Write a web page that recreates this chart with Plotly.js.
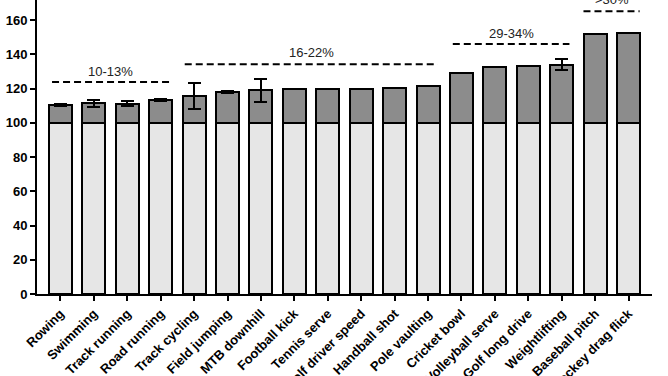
<!DOCTYPE html>
<html>
<head>
<meta charset="utf-8">
<script src="https://cdn.plot.ly/plotly-3.0.1.min.js"></script>
<style>
html,body{margin:0;padding:0;background:#fff;overflow:hidden;width:668px;height:376px;}
#chart{position:absolute;left:-60px;top:-40px;width:732px;height:480px;}
</style>
</head>
<body>
<div id="chart"></div>
<script>
// Data (values in %)
const sports = ["Rowing","Swimming","Track running","Road running","Track cycling","Field jumping","MTB downhill","Football kick","Tennis serve","Golf driver speed","Handball shot","Pole vaulting","Cricket bowl","Volleyball serve","Golf long drive","Weightlifting","Baseball pitch","Hockey drag flick"];
const baseline = [100,100,100,100,100,100,100,100,100,100,100,100,100,100,100,100,100,100];
const totals = [110.5,111.5,111.2,113.5,116,118,119,120,120,120,120.3,121.5,129,132.5,133.3,134,152,152.5];
const errors = [0.8,2,1.5,0.6,7.6,0.8,6.6,0,0,0,0,0,0,0,0,3.2,0,0];
const groupLabels = ["10-13%","16-22%","29-34%",">30%"];
const groupStart = [-0.25,3.72,11.74,15.65];
const groupEnd = [3.27,11.29,15.23,17.33];
const groupLevel = [123.9,134.2,146.1,165.2];
const groupLabelY = [130.3,141.3,152.4,172.4];
const yTicks = [0,20,40,60,80,100,120,140,160,180];

const gains = totals.map((t,i)=>t-baseline[i]);

const traces = [
  {type:'bar', x:sports, y:baseline, width:0.69,
   marker:{color:'#e6e6e6', line:{color:'#000', width:2}}, hoverinfo:'skip'},
  {type:'bar', x:sports, y:gains, width:0.69,
   marker:{color:'#8c8c8c', line:{color:'#000', width:2}},
   error_y:{type:'data', array:errors, visible:true, color:'#000', thickness:2, width:6.5}}
];

const shapes = groupLabels.map((g,i)=>({
  type:'line', xref:'x', yref:'y', x0:groupStart[i], x1:groupEnd[i], y0:groupLevel[i], y1:groupLevel[i],
  line:{color:'#000', width:2, dash:'7px,4px'}
}));

const annotations = groupLabels.map((g,i)=>({
  xref:'x', yref:'y', x:(groupStart[i]+groupEnd[i])/2, y:groupLabelY[i], text:g, showarrow:false,
  font:{family:'Liberation Sans, Arial, sans-serif', size:13, color:'#222'}
}));
annotations.push({
  xref:'paper', yref:'y', x:-0.066, y:108.7, xanchor:'right', yanchor:'top', textangle:-90,
  text:'Velocity (%)', showarrow:false,
  font:{family:'Liberation Sans, Arial, sans-serif', size:14, color:'#000', weight:'bold'}
});

const layout = {
  width:732, height:480,
  margin:{l:97, r:20, t:26, b:146},
  barmode:'stack', showlegend:false,
  paper_bgcolor:'#fff', plot_bgcolor:'#fff',
  font:{family:'Liberation Sans, Arial, sans-serif', color:'#000'},
  xaxis:{type:'category', range:[-0.7,17.7], showline:true, linecolor:'#000', linewidth:2,
         ticks:'outside', ticklen:5, tickwidth:2, tickcolor:'#000', tickangle:-45,
         showgrid:false, zeroline:false,
         tickfont:{family:'Liberation Sans, Arial, sans-serif', size:13, weight:'bold', color:'#000'}},
  yaxis:{range:[0,180], tickvals:yTicks, showline:true, linecolor:'#000', linewidth:2,
         ticks:'outside', ticklen:5, tickwidth:2, tickcolor:'#000',
         showgrid:false, zeroline:false,
         tickfont:{family:'Liberation Sans, Arial, sans-serif', size:13, weight:'bold', color:'#000'}},
  shapes:shapes, annotations:annotations
};

Plotly.newPlot('chart', traces, layout, {displayModeBar:false, staticPlot:true});
</script>
</body>
</html>
